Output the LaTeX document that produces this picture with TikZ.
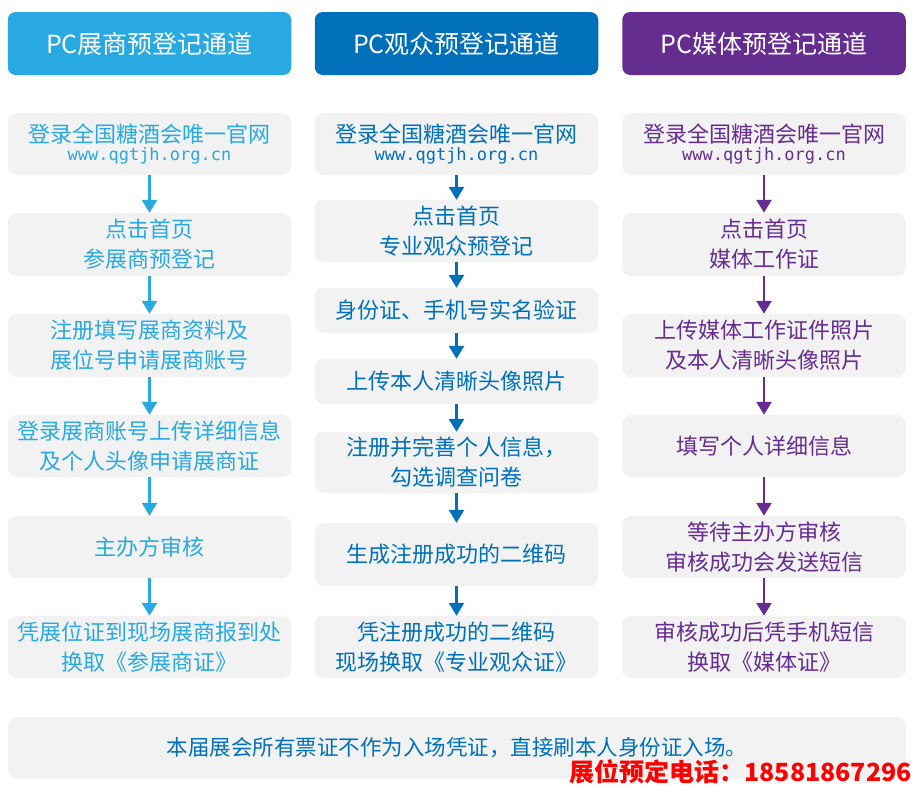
\documentclass[tikz,border=0pt]{standalone}
\usepackage{fontspec}
\setmainfont{Noto Sans CJK SC}
\newfontfamily\urlfont{DejaVu Sans Mono}
\usetikzlibrary{arrows.meta}
\definecolor{cA}{HTML}{29A9E1}
\definecolor{cB}{HTML}{0070BA}
\definecolor{cC}{HTML}{662D91}
\definecolor{boxgray}{HTML}{F2F2F2}
\definecolor{telred}{HTML}{FF0000}
\tikzset{
  hdr/.style={rounded corners=8pt, minimum width=283.5pt, minimum height=63pt, inner sep=0pt, text=white, font=\fontsize{25}{30}\selectfont},
  stepbox/.style={rounded corners=9pt, fill=boxgray, minimum width=283.5pt, inner sep=0pt, align=center, font=\fontsize{22}{30}\selectfont},
  urlbox/.style={stepbox, minimum height=62pt, font=\fontsize{22}{17.5}\selectfont},
  flow/.style={line width=2.6pt, -{Triangle[width=15pt,length=13pt]}},
}
\newcommand{\urltext}{\\{\urlfont\fontsize{17}{17.5}\selectfont www.qgtjh.org.cn}}
\begin{document}
\begin{tikzpicture}[x=1pt,y=-1pt]
\useasboundingbox (0,0) rectangle (918,787);
% headers
\node[hdr, fill=cA] (h1) at (149.5,43.5) {PC展商预登记通道};
\node[hdr, fill=cB] (h2) at (456.5,43.5) {PC观众预登记通道};
\node[hdr, fill=cC] (h3) at (764,43.5) {PC媒体预登记通道};
% column 1
\begin{scope}[every node/.append style={text=cA}]
\node[urlbox] (a1) at (149.5,144) {登录全国糖酒会唯一官网\urltext};
\node[stepbox, minimum height=63pt] (a2) at (149.5,244.5) {点击首页\\参展商预登记};
\node[stepbox, minimum height=63pt] (a3) at (149.5,345.5) {注册填写展商资料及\\展位号申请展商账号};
\node[stepbox, minimum height=62pt] (a4) at (149.5,446) {登录展商账号上传详细信息\\及个人头像申请展商证};
\node[stepbox, minimum height=62pt] (a5) at (149.5,547) {主办方审核};
\node[stepbox, minimum height=62pt] (a6) at (149.5,647) {凭展位证到现场展商报到处\\换取《参展商证》};
\end{scope}
\foreach \i/\j in {a1/a2,a2/a3,a3/a4,a4/a5,a5/a6} \draw[flow, cA] (\i.south) -- (\j.north);
% column 2
\begin{scope}[every node/.append style={text=cB}]
\node[urlbox] (b1) at (456.5,144) {登录全国糖酒会唯一官网\urltext};
\node[stepbox, minimum height=62pt] (b2) at (456.5,231) {点击首页\\专业观众预登记};
\node[stepbox, minimum height=45pt] (b3) at (456.5,310.5) {身份证、手机号实名验证};
\node[stepbox, minimum height=45pt] (b4) at (456.5,381.5) {上传本人清晰头像照片};
\node[stepbox, minimum height=61pt] (b5) at (456.5,462.5) {注册并完善个人信息，\\勾选调查问卷};
\node[stepbox, minimum height=63pt] (b6) at (456.5,554.5) {生成注册成功的二维码};
\node[stepbox, minimum height=62pt] (b7) at (456.5,647) {凭注册成功的二维码\\现场换取《专业观众证》};
\end{scope}
\foreach \i/\j in {b1/b2,b2/b3,b3/b4,b4/b5,b5/b6,b6/b7} \draw[flow, cB] (\i.south) -- (\j.north);
% column 3
\begin{scope}[every node/.append style={text=cC}]
\node[urlbox] (c1) at (764,144) {登录全国糖酒会唯一官网\urltext};
\node[stepbox, minimum height=63pt] (c2) at (764,244.5) {点击首页\\媒体工作证};
\node[stepbox, minimum height=63pt] (c3) at (764,345.5) {上传媒体工作证件照片\\及本人清晰头像照片};
\node[stepbox, minimum height=62pt] (c4) at (764,446) {填写个人详细信息};
\node[stepbox, minimum height=62pt] (c5) at (764,547) {等待主办方审核\\审核成功会发送短信};
\node[stepbox, minimum height=62pt] (c6) at (764,647) {审核成功后凭手机短信\\换取《媒体证》};
\end{scope}
\foreach \i/\j in {c1/c2,c2/c3,c3/c4,c4/c5,c5/c6} \draw[flow, cC] (\i.south) -- (\j.north);
% bottom note
\node[stepbox, minimum width=898pt, minimum height=62pt, text=cB, font=\fontsize{21.5}{26}\selectfont] (note) at (457,748) {本届展会所有票证不作为入场凭证，直接刷本人身份证入场。};
\node[anchor=east, inner sep=0pt, text=telred, font=\fontsize{25}{30}\selectfont\bfseries] (tel) at (912,772) {展位预定电话：18581867296};
\end{tikzpicture}
\end{document}
